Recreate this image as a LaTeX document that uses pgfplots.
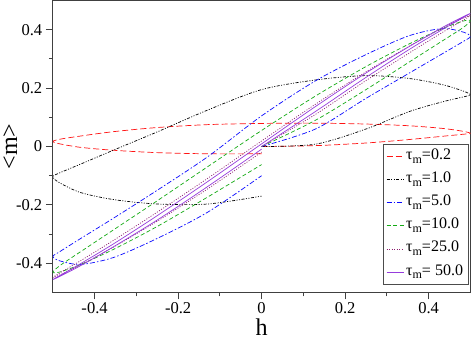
\documentclass[border=0pt]{standalone}
\usepackage{fontspec}
\setmainfont{Liberation Serif}
\usepackage{pgfplots}
\pgfplotsset{compat=1.18}

\definecolor{cred}{RGB}{255,20,20}
\definecolor{cblack}{RGB}{0,0,0}
\definecolor{cblue}{RGB}{10,10,255}
\definecolor{cgreen}{RGB}{20,170,20}
\definecolor{cmaroon}{RGB}{140,30,110}
\definecolor{cviolet}{RGB}{150,60,220}

\tikzset{
    s02/.style={cred, line width=0.7bp, dash pattern=on 6bp off 3bp},
    s1/.style={cblack, line width=0.7bp, dash pattern=on 3bp off 1.5bp on 1bp off 1.5bp on 1bp off 1.5bp},
    s5/.style={cblue, line width=0.7bp, dash pattern=on 5bp off 2bp on 1.5bp off 2bp},
    s10/.style={cgreen, line width=0.7bp, dash pattern=on 4bp off 2.5bp},
    s25/.style={cmaroon, line width=0.7bp, dash pattern=on 1bp off 1.5bp},
    s50/.style={cviolet, line width=0.7bp},
}

\newcommand{\tm}{τ\raisebox{-0.5ex}{\fontsize{12}{12}\selectfont m}}

\begin{document}
\begin{tikzpicture}
\begin{axis}[
    scale only axis,
    width=415bp, height=290bp,
    xmin=-0.5, xmax=0.5, ymin=-0.5, ymax=0.5,
    xtick={-0.4,-0.2,0,0.2,0.4},
    xticklabels={-0.4,-0.2,0,0.2,0.4},
    ytick={-0.4,-0.2,0,0.2,0.4},
    yticklabels={-0.4,-0.2,0,0.2,0.4},
    minor x tick num=1, minor y tick num=1,
    tick pos=left, tick align=outside,
    major tick length=7bp, minor tick length=4bp,
    axis line style={black!75, line width=1.2bp},
    every tick/.style={black!75, line width=1bp},
    tick label style={font=\fontsize{16.5}{16.5}\selectfont},
    xlabel={h}, ylabel={<m>},
    label style={font=\fontsize{24}{24}\selectfont},
    xlabel style={at={(axis description cs:0.5,-0.118)}, anchor=center},
    ylabel style={at={(axis description cs:-0.102,0.5)}, anchor=center},
    legend cell align=left,
    legend style={
        name=leg, draw=none, fill=white,
        at={(axis description cs:0.995,0.0276)}, anchor=south east,
        font=\fontsize{16}{16}\selectfont,
        nodes={inner sep=2bp, text height=11bp, text depth=5bp},
        row sep=3bp,
    },
]

% tau_m = 0.2
\addplot[s02, smooth, legend image code/.code={\draw[s02] (0cm,0cm) -- (0.6cm,0cm);}] coordinates {
    (0,0) (0.129,0.003) (0.25,0.012) (0.354,0.024) (0.433,0.035) (0.483,0.042) (0.5,0.045)
    (0.483,0.052) (0.433,0.062) (0.354,0.071) (0.25,0.077) (0.129,0.08) (0,0.079)
    (-0.129,0.075) (-0.25,0.065) (-0.354,0.051) (-0.433,0.036) (-0.483,0.025) (-0.5,0.017)
    (-0.483,0.009) (-0.433,-0.003) (-0.354,-0.013) (-0.25,-0.021) (-0.129,-0.025) (0,-0.025)
};
\addlegendentry{\tm=0.2}

% tau_m = 1.0
\addplot[s1, smooth, legend image code/.code={\draw[s1] (0cm,0cm) -- (0.6cm,0cm);}] coordinates {
    (0,0) (0.129,0.008) (0.25,0.06) (0.354,0.12) (0.433,0.153) (0.483,0.17) (0.5,0.177)
    (0.483,0.19) (0.433,0.212) (0.354,0.233) (0.25,0.243) (0.129,0.228) (0,0.195)
    (-0.129,0.125) (-0.25,0.05) (-0.354,-0.012) (-0.433,-0.06) (-0.483,-0.09) (-0.5,-0.104)
    (-0.483,-0.125) (-0.433,-0.158) (-0.354,-0.182) (-0.25,-0.197) (-0.129,-0.197) (0,-0.17)
};
\addlegendentry{\tm=1.0}

% tau_m = 5.0
\addplot[s5, smooth, legend image code/.code={\draw[s5] (0cm,0cm) -- (0.6cm,0cm);}] coordinates {
    (0,0) (0.129,0.06) (0.25,0.165) (0.354,0.252) (0.433,0.318) (0.483,0.36) (0.5,0.377)
    (0.483,0.392) (0.433,0.404) (0.354,0.38) (0.25,0.315) (0.129,0.225) (0,0.105)
    (-0.129,-0.035) (-0.25,-0.15) (-0.354,-0.245) (-0.433,-0.315) (-0.483,-0.36) (-0.5,-0.377)
    (-0.483,-0.392) (-0.433,-0.404) (-0.354,-0.38) (-0.25,-0.315) (-0.129,-0.225) (0,-0.1)
};
\addlegendentry{\tm=5.0}

% tau_m = 10.0
\addplot[s10, smooth, legend image code/.code={\draw[s10] (0cm,0cm) -- (0.6cm,0cm);}] coordinates {
    (0,0) (0.129,0.09) (0.25,0.195) (0.354,0.29) (0.433,0.362) (0.483,0.408) (0.5,0.431)
    (0.483,0.43) (0.433,0.404) (0.354,0.352) (0.25,0.274) (0.129,0.173) (0,0.055)
    (-0.129,-0.069) (-0.25,-0.186) (-0.354,-0.285) (-0.433,-0.36) (-0.483,-0.408) (-0.5,-0.431)
    (-0.483,-0.43) (-0.433,-0.404) (-0.354,-0.352) (-0.25,-0.274) (-0.129,-0.173) (0,-0.062)
};
\addlegendentry{\tm=10.0}

% tau_m = 25.0
\addplot[s25, smooth, legend image code/.code={\draw[s25] (0cm,0cm) -- (0.6cm,0cm);}] coordinates {
    (0,0) (0.129,0.11) (0.25,0.226) (0.354,0.321) (0.433,0.391) (0.483,0.433) (0.5,0.449)
    (0.483,0.44) (0.433,0.406) (0.354,0.344) (0.25,0.256) (0.129,0.145) (0,0.019)
    (-0.129,-0.109) (-0.25,-0.225) (-0.354,-0.321) (-0.433,-0.391) (-0.483,-0.433) (-0.5,-0.449)
    (-0.483,-0.44) (-0.433,-0.406) (-0.354,-0.344) (-0.25,-0.256) (-0.129,-0.145) (0,-0.019)
};
\addlegendentry{\tm=25.0}

% tau_m = 50.0
\addplot[s50, smooth, legend image code/.code={\draw[s50] (0cm,0cm) -- (0.6cm,0cm);}] coordinates {
    (0,0) (0.129,0.12) (0.25,0.237) (0.354,0.333) (0.433,0.401) (0.483,0.442) (0.5,0.456)
    (0.483,0.445) (0.433,0.408) (0.354,0.343) (0.25,0.252) (0.129,0.137) (0,0.009)
    (-0.129,-0.12) (-0.25,-0.237) (-0.354,-0.333) (-0.433,-0.401) (-0.483,-0.442) (-0.5,-0.456)
    (-0.483,-0.445) (-0.433,-0.408) (-0.354,-0.343) (-0.25,-0.252) (-0.129,-0.137) (0,-0.009)
};
\addlegendentry{\tm= 50.0}

\end{axis}
\draw[black!70, line width=1bp] (leg.south west) rectangle (leg.north east);
\end{tikzpicture}
\end{document}
